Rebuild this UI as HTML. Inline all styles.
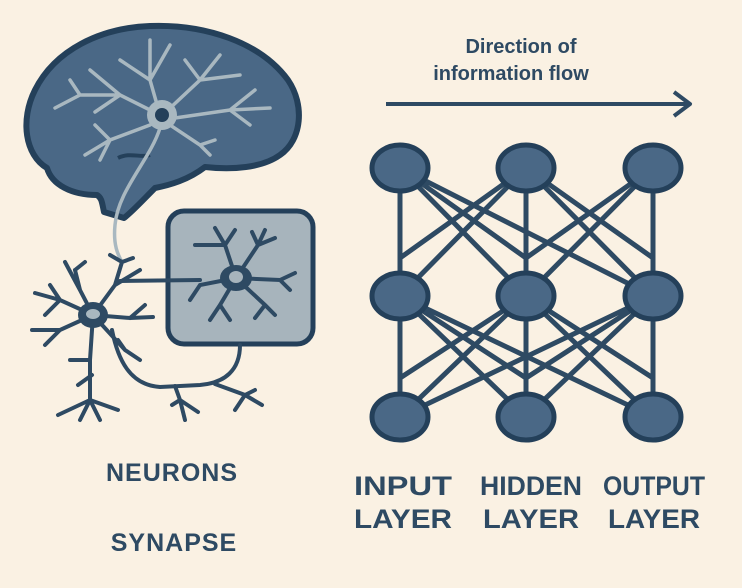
<!DOCTYPE html>
<html><head><meta charset="utf-8"><style>
html,body{margin:0;padding:0;background:#faf1e3;}
svg{display:block}
text{font-family:"Liberation Sans",sans-serif;font-weight:bold;fill:#2e4a63}
</style></head><body>
<svg width="742" height="588" viewBox="0 0 742 588" xmlns="http://www.w3.org/2000/svg">
<rect width="742" height="588" fill="#faf1e3"/>
<!-- brain -->
<path d="M35,90 C55,50 100,28 150,26 C205,24 260,42 288,80 C305,105 302,140 280,155 C262,168 232,170 205,167 C188,180 170,185 155,188 C143,200 132,212 124,218 L104,212 C102,203 102,198 97,195 C72,195 52,185 47,168 C25,155 20,120 35,90 Z" fill="#4a6886" stroke="#24405a" stroke-width="6" stroke-linejoin="round"/>
<path d="M118,158 C130,152 140,158 150,155" fill="none" stroke="#24405a" stroke-width="4"/>
<g stroke="#a9b8c0" stroke-width="3.5" fill="none" stroke-linecap="round">
<path d="M160,115 L120,95 L90,70 M120,95 L80,95 L55,108 M80,95 L70,80 M120,95 L95,112"/>
<path d="M160,115 L150,80 L150,40 M150,80 L170,45 M150,80 L120,60"/>
<path d="M168,110 L200,80 L220,55 M200,80 L185,60 M200,80 L240,75"/>
<path d="M175,118 L230,110 L270,108 M230,110 L255,90 M230,110 L250,125"/>
<path d="M170,125 L200,145 L210,155 M200,145 L215,140"/>
<path d="M150,125 L110,140 L85,155 M110,140 L95,125 M110,140 L100,160"/>
<path d="M160,128 C150,160 118,190 115,225 C113,245 118,255 122,262"/>
</g>
<circle cx="162" cy="115" r="15" fill="#a9b8c0"/>
<circle cx="162" cy="115" r="7" fill="#24405a"/>
<!-- synapse box -->
<rect x="168" y="211" width="145" height="133" rx="16" fill="#a7b4bc" stroke="#24405a" stroke-width="5"/>
<g stroke="#2e4a63" stroke-width="4" fill="none" stroke-linecap="round">
<path d="M236,278 L225,245 L215,228 M225,245 L195,245 M225,245 L235,230"/>
<path d="M236,278 L258,245 L265,230 M258,245 L275,238 M258,245 L252,232"/>
<path d="M236,278 L280,280 L295,273 M280,280 L290,290"/>
<path d="M236,278 L265,305 L275,315 M265,305 L255,318"/>
<path d="M236,278 L220,305 L210,320 M220,305 L230,320"/>
<path d="M236,278 L200,285 L190,300 M200,280 L120,281"/>
<path d="M240,345 C240,370 225,383 200,385 L160,387 C130,385 118,360 112,330"/>
<path d="M215,384 L245,395 L262,405 M245,395 L235,410 M245,395 L255,390"/>
<path d="M175,386 L180,400 L185,420 M180,400 L198,412 M180,400 L172,405"/>
</g>
<ellipse cx="236" cy="278" rx="16" ry="13" fill="#2e4a63"/>
<ellipse cx="236" cy="277" rx="7" ry="6" fill="#a7b4bc"/>
<!-- left neuron -->
<g stroke="#2e4a63" stroke-width="4" fill="none" stroke-linecap="round">
<path d="M93,315 L115,285 L122,262 M115,285 L140,270 M122,262 L110,255 M122,262 L133,258"/>
<path d="M93,315 L80,290 L75,270 M80,290 L65,262 M75,270 L85,262"/>
<path d="M93,315 L60,300 L35,293 M60,300 L50,285 M60,300 L45,315"/>
<path d="M93,315 L60,330 L32,330 M60,330 L45,345"/>
<path d="M93,315 L130,318 L153,317 M130,318 L145,305"/>
<path d="M93,315 L90,360 L90,400 L80,420 M90,360 L70,360 M90,400 L58,415 M90,400 L100,420 M90,400 L118,410 M92,375 L78,385"/>
<path d="M93,315 L125,350 L140,360 M125,350 L118,340"/>
</g>
<ellipse cx="93" cy="315" rx="15" ry="13" fill="#2e4a63"/>
<ellipse cx="93" cy="314" rx="7" ry="5" fill="#a9b8c0"/>
<text x="172" y="481" font-size="25" text-anchor="middle" letter-spacing="1">NEURONS</text>
<text x="174" y="551" font-size="25" text-anchor="middle" letter-spacing="1">SYNAPSE</text>
<!-- arrow -->
<text x="521" y="53" font-size="20" text-anchor="middle" font-weight="bold">Direction of</text>
<text x="511" y="80" font-size="20" text-anchor="middle">information flow</text>
<line x1="386" y1="104" x2="688" y2="104" stroke="#2e4a63" stroke-width="4"/>
<path d="M674,92 L690,104 L674,116" fill="none" stroke="#2e4a63" stroke-width="4" stroke-linejoin="round"/>
<!-- network -->
<g stroke="#2e4a63" stroke-width="5" fill="none">
<path d="M400,168 V417 M526,168 V417 M653,168 V417"/>
<path d="M400,168 L526,258 M400,168 L526,296 M526,168 L400,258 M526,168 L653,258 M526,168 L400,296 M526,168 L653,296 M653,168 L526,258 M653,168 L526,296 M400,168 L653,296"/>
<path d="M400,296 L526,378 M400,296 L526,417 M526,296 L400,378 M526,296 L653,378 M526,296 L400,417 M526,296 L653,417 M653,296 L526,378 M653,296 L526,417 M400,296 L653,417 M653,296 L400,417"/>
</g>
<g fill="#4a6886" stroke="#24405a" stroke-width="5">
<ellipse cx="400" cy="168" rx="28" ry="23"/><ellipse cx="526" cy="168" rx="28" ry="23"/><ellipse cx="653" cy="168" rx="28" ry="23"/>
<ellipse cx="400" cy="296" rx="28" ry="23"/><ellipse cx="526" cy="296" rx="28" ry="23"/><ellipse cx="653" cy="296" rx="28" ry="23"/>
<ellipse cx="400" cy="417" rx="28" ry="23"/><ellipse cx="526" cy="417" rx="28" ry="23"/><ellipse cx="653" cy="417" rx="28" ry="23"/>
</g>
<g font-size="27" text-anchor="middle">
<text x="403" y="495" textLength="98" lengthAdjust="spacingAndGlyphs">INPUT</text>
<text x="403" y="528" textLength="98" lengthAdjust="spacingAndGlyphs">LAYER</text>
<text x="531" y="495" textLength="102" lengthAdjust="spacingAndGlyphs">HIDDEN</text>
<text x="531" y="528" textLength="96" lengthAdjust="spacingAndGlyphs">LAYER</text>
<text x="654" y="495" textLength="102" lengthAdjust="spacingAndGlyphs">OUTPUT</text>
<text x="654" y="528" textLength="92" lengthAdjust="spacingAndGlyphs">LAYER</text>
</g>
</svg>
</body></html>
